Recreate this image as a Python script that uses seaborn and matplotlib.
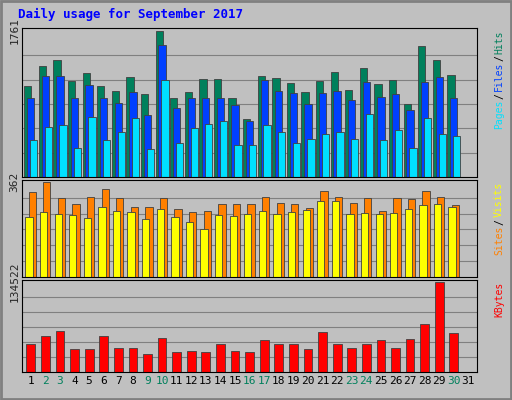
import numpy as np
import matplotlib
matplotlib.use("Agg")
import matplotlib.pyplot as plt
import seaborn as sns

sns.set_style("white")
plt.rcParams["font.family"] = ["DejaVu Sans Mono"]

days = list(range(1, 32))
weekend = [2, 3, 9, 10, 16, 17, 23, 24, 30]
hits = [1093, 1335, 1408, 1153, 1250, 1093, 1032, 1202, 995, 1761, 947, 1020, 1178, 1178, 947,
        704, 1214, 1190, 1129, 1020, 1153, 1263, 1044, 1311, 1117, 1165, 874, 1578, 1408, 1226, 0]
files = [947, 1214, 1214, 947, 1105, 947, 898, 1020, 753, 1590, 826, 947, 947, 947, 862,
         680, 1165, 1032, 1008, 874, 1008, 1032, 923, 1141, 959, 995, 813, 1141, 1202, 947, 0]
pages = [449, 607, 631, 352, 728, 449, 546, 716, 340, 1165, 413, 595, 643, 680, 388,
         388, 631, 546, 413, 461, 522, 546, 461, 765, 449, 571, 352, 716, 522, 498, 0]
visits = [322, 362, 302, 278, 306, 334, 302, 267, 267, 302, 259, 247, 251, 278, 278,
          278, 306, 282, 278, 263, 326, 306, 282, 302, 251, 302, 298, 326, 306, 274, 0]
sites = [227, 247, 239, 235, 223, 267, 251, 247, 219, 259, 227, 211, 183, 235, 231,
         239, 251, 239, 247, 255, 290, 290, 239, 243, 239, 243, 259, 274, 278, 267, 0]
kbytes = [41700, 54100, 61800, 34000, 34000, 54100, 35600, 35600, 26300, 51000, 29400, 30900,
          29400, 41700, 30900, 29400, 47900, 41700, 41700, 34000, 60300, 41700, 35600, 41700,
          47900, 35600, 49500, 71100, 134522, 58700, 0]

bg = "#C0C0C0"
fig = plt.figure(figsize=(5.12, 4.0), dpi=100, facecolor=bg)
fig.patches.append(plt.Rectangle((0.002, 0.002), 0.996, 0.996, transform=fig.transFigure,
                                 fill=False, edgecolor="#808080", linewidth=2))
fig.text(0.035, 0.963, "Daily usage for September 2017", color="#0000FF",
         fontsize=9, fontweight="bold", va="center")

x = np.array(days)
left, width = 0.043, 0.889
panels = [
    (0.5575, 0.3725, [(hits, "#00805C", -0.2), (files, "#0040FF", 0.0), (pages, "#00E0FF", 0.2)], 1761,
     [("Hits", "#00805C"), ("/", "#000000"), ("Files", "#0040FF"), ("/", "#000000"), ("Pages", "#00E0FF")]),
    (0.3075, 0.2425, [(visits, "#FF8000", 0.1), (sites, "#FFFF00", -0.12)], 362,
     [("Visits", "#FFFF00"), ("/", "#000000"), ("Sites", "#FF8000")]),
    (0.07, 0.23, [(kbytes, "#FF0000", 0.0)], 134522, [("KBytes", "#FF0000")]),
]

for i, (b, h, series, top, labels) in enumerate(panels):
    ax = fig.add_axes([left, b, width, h], facecolor=bg)
    for vals, col, off in series:
        ax.bar(x + off, vals, width=0.5 if i < 2 else 0.6, color=col,
               edgecolor="#404040", linewidth=0.6)
    ax.set_ylim(0, top * 1.02)
    ax.set_xlim(0.4, 31.6)
    for k in range(1, 6):
        ax.axhline(top * k / 6, color="#808080", linewidth=0.8, zorder=0)
    ax.set_yticks([top])
    ax.set_yticklabels([str(top)], rotation=90, va="center", fontsize=8)
    ax.tick_params(axis="y", length=0, pad=2)
    for s in ax.spines.values():
        s.set_color("#000000")
        s.set_linewidth(0.8)
    if i < 2:
        ax.set_xticks([])
    else:
        ax.set_xticks(days)
        ax.set_xticklabels([str(d) for d in days], fontsize=8)
        ax.tick_params(axis="x", length=0, pad=3)
        for t, d in zip(ax.get_xticklabels(), days):
            t.set_color("#00805C" if d in weekend else "#000000")
    # right side vertical legend, reading upward, stacked from the top
    ypos = b + h - 0.005
    for txt, col in labels:
        fig.text(0.975, ypos, txt, color=col, fontsize=7, rotation=90,
                 va="top", ha="center")
        ypos -= len(txt) * 0.0148 + 0.003

fig.savefig("out.png", dpi=100, facecolor=bg)
